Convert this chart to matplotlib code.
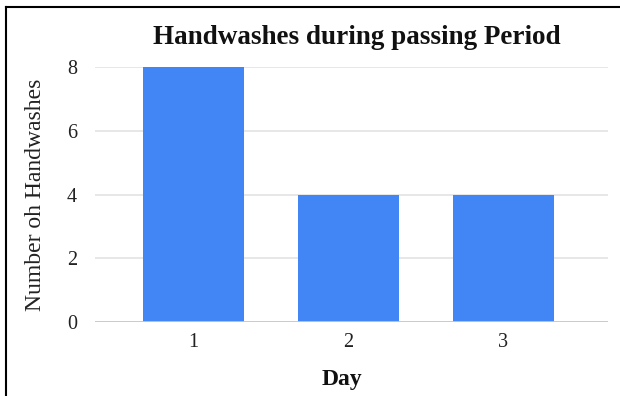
import matplotlib
matplotlib.use('Agg')
import matplotlib.pyplot as plt
from matplotlib.lines import Line2D

days = ['1', '2', '3']
handwashes = [8, 4, 4]
y_ticks = [0, 2, 4, 6, 8]

plt.rcParams['font.family'] = 'Liberation Serif'

fig = plt.figure(figsize=(6.2, 3.96), dpi=100)
ax = fig.add_axes([95 / 620, 1 - 322 / 396, (608 - 95) / 620, (322 - 67) / 396])

x = [1, 2, 3]
ax.bar(x, handwashes, width=0.65, color='#4285f4', zorder=3)

ax.set_xlim(0.365, 3.675)
ax.set_ylim(0, 8)
ax.set_yticks(y_ticks)
ax.set_xticks(x)
ax.set_xticklabels(days)
ax.grid(axis='y', color='#e3e3e3', linewidth=1.2, zorder=0)
ax.axhline(0, color='#c8c8c8', linewidth=2, zorder=4)
for s in ax.spines.values():
    s.set_visible(False)
ax.tick_params(length=0, labelsize=14.5, colors='#222222', pad=8)
ax.tick_params(axis='y', pad=13)

ax.set_xlabel('Day', fontsize=17, fontweight='bold', color='#111111', labelpad=12)
ax.xaxis.label.set_x(0.481)
ax.set_ylabel('Number oh Handwashes', fontsize=17, color='#222222', labelpad=15)
fig.text(357 / 620, 1 - 37 / 396, 'Handwashes during passing Period',
         ha='center', va='center', fontsize=19.5, fontweight='bold', color='#111111')

# frame lines along top and left edges
fig.add_artist(Line2D([6 / 620, 1], [1 - 7 / 396, 1 - 7 / 396], color='black', linewidth=1.5,
                      transform=fig.transFigure))
fig.add_artist(Line2D([6 / 620, 6 / 620], [0, 1 - 7 / 396], color='black', linewidth=1.5,
                      transform=fig.transFigure))

fig.savefig('out.png', dpi=100)
